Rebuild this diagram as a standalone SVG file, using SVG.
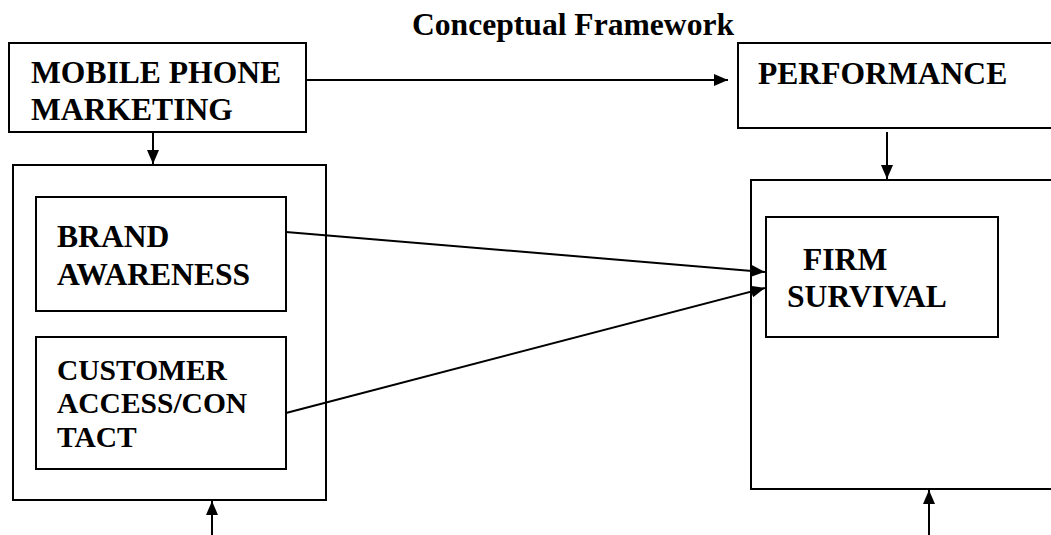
<svg xmlns="http://www.w3.org/2000/svg" width="1051" height="535" viewBox="0 0 1051 535">
  <style>
    .box { fill: #fff; stroke: #000; stroke-width: 2; }
    .lbl { font-family: "Liberation Serif", "Times New Roman", serif; font-weight: bold; font-size: 31.6px; fill: #000; }
    .sm { font-size: 29.5px; }
    .wire { stroke: #000; stroke-width: 2; fill: none; marker-end: url(#head); }
  </style>
  <defs>
    <!-- solid triangular arrowhead, 14 long x 12 wide at stroke width 2 -->
    <marker id="head" viewBox="0 0 14 12" refX="14" refY="6" markerWidth="7" markerHeight="6" markerUnits="strokeWidth" orient="auto">
      <path d="M0,0 L14,6 L0,12 z" fill="#000"/>
    </marker>
  </defs>
  <rect width="1051" height="535" fill="#fff"/>

  <text class="lbl" x="412" y="35">Conceptual Framework</text>

  <g id="mobile-phone-marketing">
    <rect class="box" x="9" y="43" width="297" height="89"/>
    <text class="lbl" x="31" y="83">MOBILE PHONE</text>
    <text class="lbl" x="31" y="120">MARKETING</text>
  </g>

  <g id="performance">
    <rect class="box" x="738" y="43" width="330" height="85"/>
    <text class="lbl" x="758" y="84">PERFORMANCE</text>
  </g>

  <g id="marketing-dimensions">
    <rect class="box" x="13" y="165" width="313" height="335"/>
  </g>

  <g id="brand-awareness">
    <rect class="box" x="36" y="197" width="250" height="114"/>
    <text class="lbl" x="57" y="247">BRAND</text>
    <text class="lbl" x="57" y="285">AWARENESS</text>
  </g>

  <g id="customer-access">
    <rect class="box" x="36" y="337" width="250" height="132"/>
    <text class="lbl sm" x="57" y="380">CUSTOMER</text>
    <text class="lbl sm" x="57" y="413">ACCESS/CON</text>
    <text class="lbl sm" x="57" y="447">TACT</text>
  </g>

  <g id="performance-outcome">
    <rect class="box" x="751" y="180" width="320" height="309"/>
  </g>

  <g id="firm-survival">
    <rect class="box" x="766" y="217" width="232" height="120"/>
    <text class="lbl" x="803" y="270">FIRM</text>
    <text class="lbl" x="787" y="307">SURVIVAL</text>
  </g>

  <g id="connectors">
    <line class="wire" x1="306" y1="80" x2="728" y2="80"/>
    <line class="wire" x1="153" y1="132" x2="153" y2="164"/>
    <line class="wire" x1="887" y1="132" x2="887" y2="179"/>
    <line class="wire" x1="286" y1="232" x2="765" y2="272"/>
    <line class="wire" x1="286" y1="413" x2="765" y2="288"/>
    <line class="wire" x1="212" y1="535" x2="212" y2="501"/>
    <line class="wire" x1="929" y1="535" x2="929" y2="490"/>
  </g>
</svg>
